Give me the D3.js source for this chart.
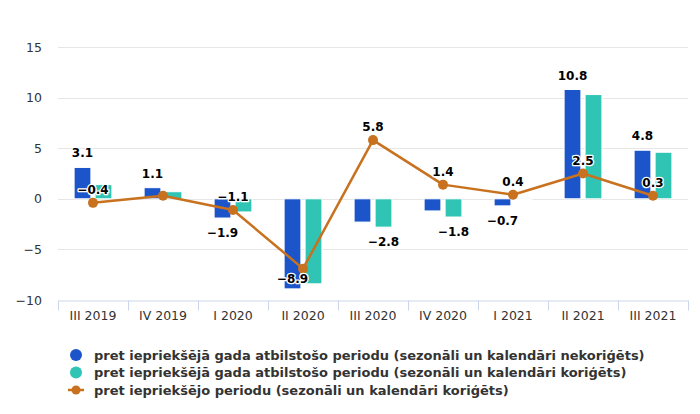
<!DOCTYPE html>
<html>
<head>
<meta charset="utf-8">
<script src="https://cdn.jsdelivr.net/npm/d3@7"></script>
<style>
  body { margin: 0; background: #fff; }
  svg { display: block; font-family: "DejaVu Sans", sans-serif; }
  .grid line { stroke: #e6e6e6; }
  .lbl { font-weight: bold; font-size: 12px; fill: #000;
         stroke: #fff; stroke-width: 2.5px; paint-order: stroke; stroke-linejoin: round; }
</style>
</head>
<body>
<div id="chart"></div>
<script>
// Data
const categories = ["III 2019", "IV 2019", "I 2020", "II 2020", "III 2020", "IV 2020", "I 2021", "II 2021", "III 2021"];
const unadjusted = [3.1, 1.1, -1.9, -8.9, -2.3, -1.2, -0.7, 10.8, 4.8];
const adjusted = [1.4, 0.7, -1.3, -8.4, -2.8, -1.8, -0.1, 10.3, 4.6];
const quarterly = [-0.4, 0.3, -1.1, -6.9, 5.8, 1.4, 0.4, 2.5, 0.3];
// which data labels are visible (the rest were hidden by overlap)
const showUnadj = [1, 1, 1, 1, 0, 0, 1, 1, 1];
const showAdj = [0, 0, 0, 0, 1, 1, 0, 0, 0];
const showQuarter = [1, 0, 1, 0, 1, 1, 1, 1, 1];
const yTicks = [-10, -5, 0, 5, 10, 15];
const seriesNames = [
  "pret iepriekšējā gada atbilstošo periodu (sezonāli un kalendāri nekoriģēts)",
  "pret iepriekšējā gada atbilstošo periodu (sezonāli un kalendāri koriģēts)",
  "pret iepriekšējo periodu (sezonāli un kalendāri koriģēts)"
];
const colors = ["#1b55c9", "#2fc4b4", "#c8711f"];

const width = 700;
const height = 414;
const margin = {left: 58, right: 12, top: 47, bottom: 114};

const svg = d3.select("#chart")
  .append("svg")
  .attr("width", width)
  .attr("height", height);

const x0 = d3.scaleBand()
  .domain(categories)
  .range([margin.left, width - margin.right]);

// bars sit in the middle 60% of each category
const x1 = d3.scaleBand()
  .domain([0, 1])
  .range([x0.bandwidth() * 0.2, x0.bandwidth() * 0.8])
  .paddingInner(0.2)
  .paddingOuter(0.1);

const y = d3.scaleLinear()
  .domain([-10, 15])
  .range([height - margin.bottom, margin.top]);

// gridlines
svg.append("g")
  .attr("class", "grid")
  .selectAll("line")
  .data(yTicks.filter(t => t !== -10))
  .join("line")
  .attr("x1", margin.left)
  .attr("x2", width - margin.right)
  .attr("y1", d => Math.round(y(d)) + 0.5)
  .attr("y2", d => Math.round(y(d)) + 0.5);

// y axis labels
const yAxis = svg.append("g")
  .attr("transform", `translate(${margin.left - 16},0)`)
  .call(d3.axisLeft(y).tickValues(yTicks).tickSize(0).tickPadding(0)
    .tickFormat(d => d < 0 ? "−" + Math.abs(d) : d));
yAxis.select(".domain").remove();
yAxis.selectAll("text").attr("font-size", "12.5px").attr("fill", "#333").attr("font-family", "DejaVu Sans");

// x axis
const xAxis = svg.append("g")
  .attr("transform", `translate(0,${Math.round(y(-10)) + 0.5})`)
  .call(d3.axisBottom(x0).tickSize(0).tickPadding(11));
xAxis.select(".domain").attr("stroke", "#ccd6eb");
xAxis.selectAll("text").attr("font-size", "12.5px").attr("fill", "#333").attr("font-family", "DejaVu Sans");

// category boundary ticks
xAxis.selectAll(".sep")
  .data(d3.range(categories.length + 1))
  .join("line")
  .attr("class", "sep")
  .attr("x1", i => Math.round(margin.left + i * x0.step()) + 0.5)
  .attr("x2", i => Math.round(margin.left + i * x0.step()) + 0.5)
  .attr("y1", 0)
  .attr("y2", 10)
  .attr("stroke", "#ccd6eb");

// bars
const barSeries = [unadjusted, adjusted];
barSeries.forEach((vals, s) => {
  svg.append("g")
    .selectAll("rect")
    .data(vals)
    .join("rect")
    .attr("x", (d, i) => x0(categories[i]) + x1(s))
    .attr("y", d => y(Math.max(0, d)))
    .attr("width", x1.bandwidth())
    .attr("height", d => Math.abs(y(d) - y(0)))
    .attr("fill", colors[s])
    .attr("stroke", "#fff")
    .attr("stroke-width", 1);
});

// line
const cx = (d, i) => x0(categories[i]) + x0.bandwidth() / 2;
svg.append("path")
  .datum(quarterly)
  .attr("fill", "none")
  .attr("stroke", colors[2])
  .attr("stroke-width", 2.5)
  .attr("stroke-linejoin", "round")
  .attr("d", d3.line().x(cx).y(d => y(d)));

svg.append("g")
  .selectAll("circle")
  .data(quarterly)
  .join("circle")
  .attr("cx", cx)
  .attr("cy", d => y(d))
  .attr("r", 5)
  .attr("fill", colors[2]);

// data labels
const fmt = d => (d < 0 ? "−" : "") + Math.abs(d).toFixed(1);
const labels = svg.append("g");

barSeries.forEach((vals, s) => {
  const show = s === 0 ? showUnadj : showAdj;
  vals.forEach((d, i) => {
    if (!show[i]) return;
    let ly;
    if (d >= 0) ly = y(d) - 10;
    else {
      ly = y(d) + 19;
      if (ly > y(-10) - 2) ly = y(d) - 6; // no room below: pull it inside the bar
    }
    labels.append("text")
      .attr("class", "lbl")
      .attr("x", x0(categories[i]) + x1(s) + x1.bandwidth() / 2)
      .attr("y", ly)
      .attr("text-anchor", "middle")
      .text(fmt(d));
  });
});

quarterly.forEach((d, i) => {
  if (!showQuarter[i]) return;
  labels.append("text")
    .attr("class", "lbl")
    .attr("x", cx(d, i))
    .attr("y", y(d) - 9)
    .attr("text-anchor", "middle")
    .text(fmt(d));
});

// legend
const legend = svg.append("g").attr("transform", "translate(76,355)");
seriesNames.forEach((name, s) => {
  const g = legend.append("g").attr("transform", `translate(0,${s * 17.5})`);
  if (s < 2) {
    g.append("circle").attr("r", 6).attr("fill", colors[s]);
  } else {
    g.append("line").attr("x1", -8).attr("x2", 8)
      .attr("stroke", colors[s]).attr("stroke-width", 2.5);
    g.append("circle").attr("r", 4.5).attr("fill", colors[s]);
  }
  g.append("text")
    .attr("x", 18)
    .attr("y", 4.5)
    .attr("font-size", "13px")
    .attr("font-weight", "bold")
    .attr("fill", "#333")
    .text(name);
});
</script>
</body>
</html>
